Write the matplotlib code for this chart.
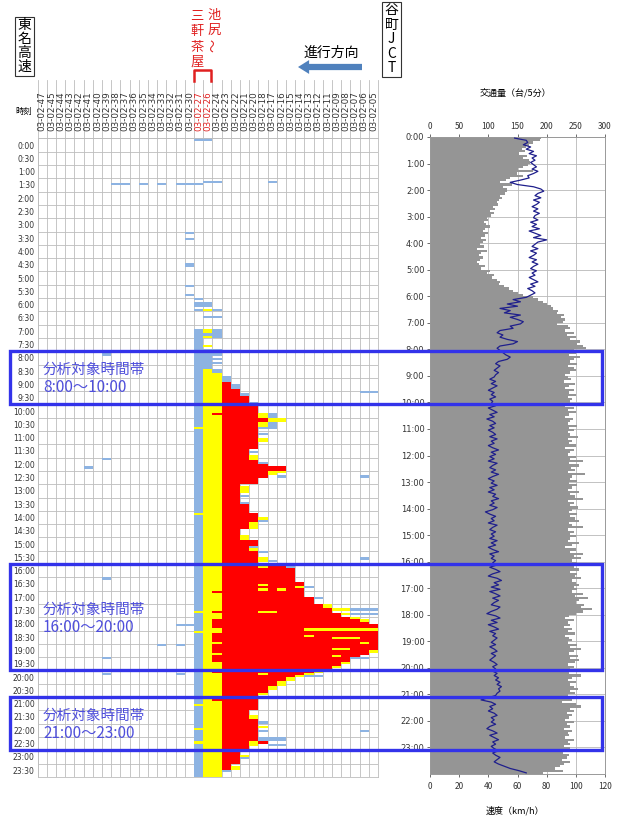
import numpy as np
import matplotlib.pyplot as plt
from matplotlib.patches import Rectangle
from matplotlib.transforms import blended_transform_factory

plt.rcParams['font.family'] = ['Noto Sans CJK JP', 'DejaVu Sans']

# detector columns (left = Tomei side, right = Yoga JCT side)
codes = ["47", "45", "44", "43", "42", "41", "40", "39", "38", "37", "36", "35",
         "34", "33", "32", "31", "30", "27", "26", "24", "23", "22", "21", "20",
         "18", "17", "16", "15", "14", "13", "12", "11", "09", "08", "07", "06", "05"]
red_codes = ["27", "26"]

# congestion block: red from column "23" to the head column
congestion = [
    ("9:10", "9:25", "23"), ("9:25", "9:40", "22"), ("9:40", "10:00", "21"),
    ("10:00", "10:30", "20"), ("10:30", "10:40", "18"), ("10:40", "11:40", "20"),
    ("11:40", "12:05", "21"), ("12:05", "12:15", "20"), ("12:15", "12:20", "18"),
    ("12:20", "12:30", "16"), ("12:30", "12:45", "18"), ("12:45", "13:00", "20"),
    ("13:00", "13:45", "22"), ("13:45", "14:05", "21"), ("14:05", "14:25", "20"),
    ("14:25", "14:40", "21"), ("14:40", "15:05", "22"), ("15:05", "15:20", "20"),
    ("15:20", "15:30", "21"), ("15:30", "16:00", "20"), ("16:00", "16:10", "16"),
    ("16:10", "16:40", "15"), ("16:40", "17:15", "14"), ("17:15", "17:30", "13"),
    ("17:30", "17:40", "12"), ("17:40", "17:50", "11"), ("17:50", "18:00", "09"),
    ("18:00", "18:05", "08"), ("18:05", "18:10", "07"), ("18:10", "18:15", "06"),
    ("18:15", "19:15", "05"), ("19:15", "19:25", "06"), ("19:25", "19:30", "07"),
    ("19:30", "19:40", "08"), ("19:40", "19:50", "09"), ("19:50", "20:00", "11"),
    ("20:00", "20:05", "13"), ("20:05", "20:10", "14"), ("20:10", "20:15", "15"),
    ("20:15", "20:25", "16"), ("20:25", "20:35", "17"), ("20:35", "20:50", "18"),
    ("20:50", "21:30", "20"), ("21:30", "21:50", "21"), ("21:50", "22:40", "20"),
    ("22:40", "23:00", "21"), ("23:00", "23:30", "22"), ("23:30", "23:45", "23"),
]

blue_marks = [
    ("0:00", "0:05", "27", "26"), ("1:35", "1:40", "26", "24"), ("1:35", "1:40", "17", "17"),
    ("1:40", "1:45", "38", "37"), ("1:40", "1:45", "35", "35"), ("1:40", "1:45", "33", "33"),
    ("1:40", "1:45", "31", "27"), ("3:30", "3:35", "30", "30"), ("3:45", "3:50", "30", "30"),
    ("4:40", "4:50", "30", "30"), ("5:30", "5:35", "30", "30"), ("5:50", "5:55", "30", "30"),
    ("6:00", "6:05", "27", "27"), ("6:10", "6:20", "27", "26"), ("6:25", "6:30", "27", "27"),
    ("6:25", "6:30", "24", "24"), ("6:40", "6:45", "26", "24"), ("7:10", "24:00", "27", "27"),
    ("7:10", "7:30", "24", "24"), ("7:20", "7:25", "26", "26"), ("7:55", "8:40", "26", "26"),
    ("7:55", "8:00", "24", "24"), ("8:05", "8:10", "24", "24"), ("8:15", "8:20", "24", "24"),
    ("8:25", "8:30", "24", "24"), ("8:40", "8:50", "24", "24"), ("8:55", "9:10", "23", "23"),
    ("9:15", "9:25", "22", "22"), ("9:35", "9:40", "21", "21"), ("9:55", "10:00", "20", "20"),
    ("8:05", "8:10", "39", "39"), ("9:30", "9:35", "06", "05"), ("10:20", "10:30", "17", "17"),
    ("10:40", "10:55", "18", "17"), ("11:05", "11:10", "18", "18"), ("11:45", "11:50", "20", "20"),
    ("12:10", "12:15", "18", "18"), ("12:20", "12:25", "41", "41"), ("12:00", "12:05", "39", "39"),
    ("12:40", "12:45", "06", "06"), ("12:40", "12:45", "16", "16"), ("13:25", "13:30", "21", "21"),
    ("13:40", "13:45", "21", "21"), ("14:20", "14:25", "18", "18"), ("15:20", "15:25", "20", "20"),
    ("15:30", "15:35", "18", "18"), ("15:45", "15:50", "06", "06"), ("15:50", "15:55", "17", "17"),
    ("16:05", "16:10", "15", "15"), ("16:30", "16:35", "39", "39"), ("16:50", "16:55", "13", "13"),
    ("17:15", "17:20", "12", "12"), ("17:40", "17:45", "07", "05"), ("17:50", "17:55", "07", "05"),
    ("18:15", "18:20", "31", "30"), ("19:00", "19:05", "33", "33"), ("19:00", "19:05", "31", "31"),
    ("19:30", "19:35", "39", "39"), ("19:30", "19:35", "07", "06"), ("20:05", "20:10", "39", "39"),
    ("20:05", "20:10", "31", "31"), ("20:10", "20:15", "13", "12"), ("21:00", "21:05", "20", "20"),
    ("21:35", "21:40", "21", "21"), ("21:55", "22:00", "18", "18"), ("22:15", "22:20", "18", "18"),
    ("22:15", "22:20", "06", "06"), ("22:30", "22:40", "18", "16"), ("22:45", "22:50", "17", "16"),
    ("23:15", "23:20", "21", "21"), ("23:45", "23:50", "23", "23"),
]

yellow_marks = [
    ("6:25", "6:30", "26", "26"), ("7:10", "7:20", "26", "26"), ("7:25", "7:30", "26", "26"),
    ("7:45", "7:50", "26", "26"), ("8:40", "24:00", "26", "26"), ("8:50", "24:00", "24", "24"),
    ("10:20", "10:30", "18", "18"), ("10:30", "10:40", "17", "16"), ("10:40", "10:50", "18", "18"),
    ("11:15", "11:25", "18", "18"), ("11:55", "12:05", "20", "20"), ("12:30", "12:35", "17", "16"),
    ("12:35", "12:40", "17", "17"), ("13:05", "13:20", "21", "21"), ("14:00", "14:05", "21", "21"),
    ("14:15", "14:20", "18", "18"), ("14:25", "14:40", "20", "20"), ("14:55", "15:05", "21", "21"),
    ("15:25", "15:30", "20", "20"), ("15:45", "15:55", "18", "18"), ("17:30", "17:40", "11", "11"),
    ("17:40", "17:45", "09", "08"), ("17:50", "17:55", "08", "08"), ("18:00", "18:05", "07", "07"),
    ("18:05", "18:10", "06", "06"), ("19:15", "19:20", "05", "05"), ("19:40", "19:45", "08", "08"),
    ("19:50", "19:55", "09", "09"), ("20:00", "20:05", "12", "12"), ("20:05", "20:10", "13", "13"),
    ("20:10", "20:15", "14", "14"), ("20:15", "20:25", "15", "15"), ("20:25", "20:35", "16", "16"),
    ("20:35", "20:45", "17", "17"), ("20:50", "20:55", "18", "18"), ("21:40", "21:50", "20", "20"),
    ("22:05", "22:10", "18", "18"), ("22:40", "22:50", "20", "20"), ("23:10", "23:15", "21", "21"),
    ("23:35", "23:45", "22", "22"),
    ("10:50", "10:55", "27", "27"), ("14:05", "14:10", "27", "27"), ("17:45", "17:50", "27", "27"),
    ("18:30", "18:35", "27", "27"), ("21:15", "21:20", "27", "27"), ("22:10", "22:15", "27", "27"),
    ("22:40", "22:45", "27", "27"),
]

red_marks = [
    ("10:20", "10:25", "24", "24"), ("17:00", "17:05", "24", "24"), ("17:45", "17:50", "24", "24"),
    ("18:05", "18:25", "24", "24"), ("18:35", "18:55", "24", "24"), ("19:00", "19:20", "24", "24"),
    ("19:25", "19:40", "24", "24"), ("20:00", "20:05", "24", "24"), ("21:05", "21:10", "24", "24"),
    ("22:40", "22:45", "18", "18"),
]

yellow_stripes = [
    ("16:05", "16:10", "18", "18"), ("16:45", "16:50", "18", "18"), ("16:55", "17:00", "18", "18"),
    ("16:55", "17:00", "16", "16"), ("16:50", "16:55", "14", "14"), ("17:45", "17:50", "18", "17"),
    ("18:25", "18:30", "13", "05"), ("18:40", "18:45", "13", "13"), ("18:45", "18:50", "09", "07"),
    ("18:55", "19:00", "06", "06"), ("19:10", "19:15", "09", "08"), ("19:25", "19:30", "09", "09"),
    ("20:05", "20:10", "18", "18"),
]

analysis_periods = [("8:00", "10:00"), ("16:00", "20:00"), ("21:00", "23:00")]

# traffic volume (veh/5min), one row per hour
volume = [
    [190, 188, 176, 170, 165, 158, 162, 152, 166, 160, 170, 172],
    [168, 160, 150, 176, 149, 160, 137, 130, 120, 140, 125, 132],
    [132, 128, 120, 124, 118, 114, 116, 108, 112, 103, 110, 104],
    [97, 100, 92, 96, 103, 95, 91, 99, 94, 88, 96, 90],
    [86, 92, 80, 98, 88, 84, 90, 86, 80, 84, 94, 88],
    [103, 98, 110, 106, 114, 120, 118, 126, 136, 143, 150, 160],
    [177, 185, 194, 200, 208, 211, 220, 217, 229, 224, 232, 228],
    [217, 236, 240, 232, 246, 234, 251, 240, 257, 252, 263, 268],
    [246, 251, 238, 257, 246, 240, 252, 236, 246, 250, 240, 232],
    [236, 242, 230, 249, 238, 232, 246, 238, 251, 236, 244, 240],
    [240, 232, 246, 236, 250, 238, 232, 245, 240, 236, 252, 238],
    [246, 236, 240, 254, 236, 244, 238, 250, 232, 246, 240, 236],
    [250, 240, 262, 238, 256, 242, 248, 236, 266, 244, 240, 252],
    [238, 252, 244, 236, 256, 240, 248, 262, 236, 246, 240, 254],
    [244, 238, 252, 240, 248, 256, 238, 244, 262, 236, 246, 240],
    [250, 240, 236, 256, 244, 232, 250, 240, 262, 246, 258, 244],
    [252, 260, 246, 256, 240, 252, 248, 258, 244, 250, 256, 246],
    [252, 244, 262, 248, 270, 256, 250, 264, 258, 277, 262, 250],
    [238, 232, 246, 236, 240, 230, 244, 236, 248, 232, 238, 244],
    [236, 252, 240, 258, 246, 238, 254, 240, 256, 248, 236, 246],
    [240, 250, 238, 258, 244, 236, 250, 240, 246, 254, 240, 248],
    [236, 211, 244, 226, 250, 258, 240, 246, 234, 244, 238, 232],
    [246, 234, 240, 230, 244, 236, 238, 232, 246, 236, 240, 230],
    [240, 236, 228, 238, 234, 226, 240, 230, 222, 214, 228, 194],
]

# speed (km/h), one row per hour
speed = [
    [58, 66, 67, 64, 69, 66, 71, 68, 73, 70, 72, 69],
    [71, 73, 70, 74, 71, 67, 68, 62, 55, 60, 71, 76],
    [78, 74, 72, 76, 71, 75, 73, 70, 74, 71, 75, 72],
    [71, 74, 69, 73, 70, 75, 68, 72, 76, 71, 80, 74],
    [72, 70, 74, 69, 73, 71, 68, 73, 70, 74, 71, 69],
    [73, 70, 72, 68, 71, 74, 69, 72, 67, 70, 72, 69],
    [66, 57, 62, 53, 60, 48, 55, 51, 62, 55, 60, 64],
    [62, 55, 57, 48, 46, 50, 48, 53, 60, 57, 48, 46],
    [48, 50, 52, 55, 53, 47, 45, 48, 46, 44, 47, 45],
    [44, 41, 45, 42, 46, 43, 40, 44, 42, 45, 41, 43],
    [42, 45, 40, 43, 46, 41, 44, 39, 43, 45, 41, 44],
    [40, 43, 45, 41, 46, 42, 44, 40, 43, 47, 42, 45],
    [41, 44, 40, 46, 43, 41, 45, 42, 47, 43, 40, 44],
    [42, 46, 41, 44, 40, 45, 43, 47, 42, 44, 41, 46],
    [43, 38, 41, 45, 42, 44, 40, 46, 43, 41, 45, 42],
    [44, 41, 46, 42, 45, 40, 43, 47, 41, 44, 42, 45],
    [43, 46, 41, 45, 48, 43, 40, 46, 49, 44, 47, 42],
    [48, 41, 45, 48, 43, 47, 44, 42, 48, 46, 42, 39],
    [45, 48, 42, 46, 40, 44, 47, 41, 45, 43, 46, 44],
    [42, 45, 41, 44, 46, 42, 45, 43, 41, 44, 46, 43],
    [45, 43, 46, 44, 47, 45, 48, 46, 49, 47, 48, 46],
    [45, 40, 35, 42, 45, 41, 43, 40, 44, 46, 42, 44],
    [42, 45, 41, 39, 43, 46, 41, 44, 47, 43, 45, 42],
    [44, 47, 43, 45, 48, 46, 44, 47, 51, 55, 61, 66],
]


def tmin(s):
    h, m = s.split(':')
    return int(h) * 60 + int(m)


W, H = 624, 819
fig = plt.figure(figsize=(W / 100, H / 100), dpi=100)


def fx(px):
    return px / W


def fy(py):
    return 1 - py / H


col = {c: i for i, c in enumerate(codes)}
BLUE, YEL, RED = '#8db3e2', '#ffff00', '#ff0000'

# ---------------- left: congestion map ----------------
gx0, gx1, gy0, gy1 = 37.6, 378.0, 138.4, 776.8
ax = fig.add_axes([fx(gx0), fy(gy1), (gx1 - gx0) / W, (gy1 - gy0) / H])
ax.set_xlim(0, len(codes))
ax.set_ylim(1440, 0)


def draw(marks, color, z):
    for s, e, c0, c1 in marks:
        i0, i1 = col[c0], col[c1]
        ax.barh(tmin(s), i1 - i0 + 1, height=tmin(e) - tmin(s), left=i0,
                align='edge', color=color, linewidth=0, zorder=z)


draw(blue_marks, BLUE, 2)
draw(yellow_marks, YEL, 3)
for s, e, head in congestion:
    ax.barh(tmin(s), col[head] - col["23"] + 1, height=tmin(e) - tmin(s),
            left=col["23"], align='edge', color=RED, linewidth=0, zorder=4)
draw(red_marks, RED, 5)
draw(yellow_stripes, YEL, 6)

gc = '#bdbdbd'
for i in range(len(codes) + 1):
    ax.axvline(i, color=gc, lw=0.6, zorder=1)
for k in range(49):
    ax.axhline(k * 30, color=gc, lw=0.6, zorder=1)
for sp in ax.spines.values():
    sp.set_color(gc)
    sp.set_linewidth(0.6)

ax.set_xticks([])
ax.set_yticks([k * 30 + 15 for k in range(48)])
ax.set_yticklabels([f"{k // 2}:{(k % 2) * 30:02d}" for k in range(48)],
                   family='DejaVu Sans')
ax.tick_params(axis='y', length=0, labelsize=5.5, pad=2, labelcolor='#333333')

# header cells with vertical detector labels
hdr = blended_transform_factory(ax.transData, ax.transAxes)
top = (gy0 - 80) / (gy1 - gy0)
for i in range(len(codes) + 1):
    ax.plot([i, i], [1, 1 + top], color=gc, lw=0.6, transform=hdr, clip_on=False)
for i, c in enumerate(codes):
    ax.text(i + 0.5, 1 + (gy0 - 131) / (gy1 - gy0), "03-02-" + c, rotation=90,
            ha='center', va='bottom', fontsize=6.3, family='DejaVu Sans',
            color='#e02020' if c in red_codes else '#333333', transform=hdr)
fig.text(fx(24), fy(111), "時刻", fontsize=6, ha='center', va='center')

# place names
for j, ch in enumerate("東名高速"):
    fig.text(fx(24.5), fy(25 + 14 * j), ch, fontsize=10, ha='center', va='center')
fig.add_artist(Rectangle((fx(15), fy(76)), fx(34) - fx(15), fy(17) - fy(76),
                         transform=fig.transFigure, fill=False, ec='#333333', lw=0.8))
for j, ch in enumerate("谷町JCT"):
    fig.text(fx(391.5), fy(10 + 14.6 * j), ch, fontsize=10, ha='center', va='center')
fig.add_artist(Rectangle((fx(382), fy(77)), fx(401) - fx(382), fy(2) - fy(77),
                         transform=fig.transFigure, fill=False, ec='#333333', lw=0.8))
for j, ch in enumerate("池尻"):
    fig.text(fx(214), fy(15 + 15 * j), ch, fontsize=9.5, color='#e02020',
             ha='center', va='center')
fig.text(fx(214), fy(45), "～", fontsize=9.5, color='#e02020', rotation=90,
         ha='center', va='center')
for j, ch in enumerate("三軒茶屋"):
    fig.text(fx(197), fy(16 + 15.5 * j), ch, fontsize=9.5, color='#e02020',
             ha='center', va='center')
fig.add_artist(plt.Line2D([fx(194), fx(194), fx(211), fx(211)],
                          [fy(81), fy(70), fy(70), fy(81)], color='#e02020', lw=1.8,
                          transform=fig.transFigure))
fig.text(fx(331), fy(53), "進行方向", fontsize=10, ha='center', va='center')
ax.annotate('', xy=(298, H - 67), xytext=(362, H - 67), xycoords='figure pixels',
            textcoords='figure pixels',
            arrowprops=dict(width=4.5, headwidth=10, headlength=8, color='#4f81bd', lw=0))

# ---------------- right: volume & speed ----------------
rx0, rx1, ry0, ry1 = 430, 605, 137, 774
ax2 = fig.add_axes([fx(rx0), fy(ry1), (rx1 - rx0) / W, (ry1 - ry0) / H])
t5 = np.arange(0, 1440, 5)
vol = np.concatenate(volume)
spd = np.concatenate(speed)
ax2.barh(t5, vol, height=5, align='edge', color='#959595', linewidth=0, zorder=2)
ax2.set_xlim(0, 300)
ax2.set_ylim(1440, 0)
ax2.set_axisbelow(True)
ax2.grid(True, color='#b8b8b8', lw=0.6)

ax3 = ax2.twiny()
ax3.plot(spd, t5 + 2.5, color='#1f1f8c', lw=0.9, zorder=5)
ax3.set_xlim(0, 120)
ax3.set_ylim(1440, 0)

# volume scale on top, speed scale on bottom
ax2.xaxis.tick_top()
ax2.xaxis.set_label_position('top')
ax3.xaxis.tick_bottom()
ax3.xaxis.set_label_position('bottom')
ax2.set_xticks(range(0, 301, 50))
ax3.set_xticks(range(0, 121, 20))
ax2.set_yticks(range(0, 1440, 60))
ax2.set_yticklabels([f"{h}:00" for h in range(24)], family='DejaVu Sans')
for a in (ax2, ax3):
    a.tick_params(labelsize=6, length=2, pad=2, colors='#333333', width=0.5)
    for sp in a.spines.values():
        sp.set_color('#9a9a9a')
        sp.set_linewidth(0.6)
ax3.tick_params(axis='x', pad=4)

fig.text(fx(515), fy(93), "交通量（台/5分）", fontsize=6.5, ha='center', va='center')
fig.text(fx(515), fy(811), "速度（km/h）", fontsize=6.5, ha='center', va='center')

# ---------------- analysis period boxes ----------------
bt = blended_transform_factory(fig.transFigure, ax.transData)
for s, e in analysis_periods:
    a, b = tmin(s), tmin(e)
    fig.add_artist(Rectangle((fx(10), a), fx(602) - fx(10), b - a, transform=bt,
                             fill=False, ec='#3333ea', lw=2.4, zorder=20))
    mid = (a + b) / 2 + 3
    fig.text(fx(43), mid - 20, "分析対象時間帯", transform=bt, fontsize=10.5,
             color='#4f4fdc', va='center', ha='left', zorder=21)
    fig.text(fx(43), mid + 20, f"{s}～{e}", transform=bt, fontsize=11,
             color='#4f4fdc', va='center', ha='left', zorder=21)

fig.savefig('out.png', dpi=100)
